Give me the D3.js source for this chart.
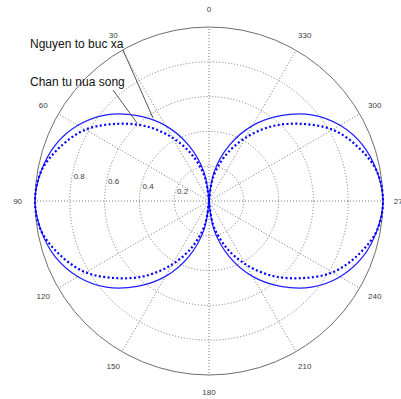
<!DOCTYPE html>
<html>
<head>
<meta charset="utf-8">
<script src="https://cdn.jsdelivr.net/npm/d3@7"></script>
<style>
  body { margin: 0; background: #fff; }
  text { font-family: "Liberation Sans", Arial, sans-serif; }
</style>
</head>
<body>
<script>
// angles in degrees, counter-clockwise from the top (0 up, 90 left)
const angles = [0, 10, 20, 30, 40, 50, 60, 70, 80, 90, 100, 110, 120, 130, 140, 150, 160, 170,
  180, 190, 200, 210, 220, 230, 240, 250, 260, 270, 280, 290, 300, 310, 320, 330, 340, 350, 360]

// "Nguyen to buc xa" (solid)
const nguyen = [0, 0.17, 0.34, 0.50, 0.64, 0.77, 0.87, 0.94, 0.98, 1.00, 0.98, 0.94, 0.87, 0.77, 0.64, 0.50, 0.34, 0.17,
  0, 0.17, 0.34, 0.50, 0.64, 0.77, 0.87, 0.94, 0.98, 1.00, 0.98, 0.94, 0.87, 0.77, 0.64, 0.50, 0.34, 0.17, 0]

// "Chan tu nua song" (dotted)
const chantu = [0, 0.14, 0.28, 0.42, 0.56, 0.69, 0.82, 0.91, 0.98, 1.00, 0.98, 0.91, 0.82, 0.69, 0.56, 0.42, 0.28, 0.14,
  0, 0.14, 0.28, 0.42, 0.56, 0.69, 0.82, 0.91, 0.98, 1.00, 0.98, 0.91, 0.82, 0.69, 0.56, 0.42, 0.28, 0.14, 0]

const spokeAngles = [0, 30, 60, 90, 120, 150, 180, 210, 240, 270, 300, 330]
const ringValues = [0.2, 0.4, 0.6, 0.8]
const ringLabels = ["0.2", "0.4", "0.6", "0.8"]

const dims = { w: 401, h: 399, cx: 209, cy: 201, R: 174 }

const svg = d3.select("body")
  .append("svg")
  .attr("width", dims.w)
  .attr("height", dims.h)

const rScale = d3.scaleLinear().domain([0, 1]).range([0, dims.R])
const rad = a => -a * Math.PI / 180   // d3 radial angles run clockwise

const px = (a, r) => dims.cx - rScale(r) * Math.sin(a * Math.PI / 180)
const py = (a, r) => dims.cy - rScale(r) * Math.cos(a * Math.PI / 180)

const g = svg.append("g")
  .attr("transform", `translate(${dims.cx}, ${dims.cy})`)

// grid rings
g.selectAll("circle.ring")
  .data(ringValues)
  .enter()
  .append("circle")
  .attr("class", "ring")
  .attr("r", d => rScale(d))
  .attr("fill", "none")
  .attr("stroke", "#6a6a6a")
  .attr("stroke-width", 0.9)
  .attr("stroke-dasharray", "1,2")

// spokes
g.selectAll("line.spoke")
  .data(spokeAngles)
  .enter()
  .append("line")
  .attr("x1", 0).attr("y1", 0)
  .attr("x2", d => px(d, 1) - dims.cx)
  .attr("y2", d => py(d, 1) - dims.cy)
  .attr("stroke", "#6a6a6a")
  .attr("stroke-width", 0.9)
  .attr("stroke-dasharray", "1,2")

// outer circle
g.append("circle")
  .attr("r", rScale(1))
  .attr("fill", "none")
  .attr("stroke", "#6e6e6e")
  .attr("stroke-width", 1)

// angle labels
svg.selectAll("text.ang")
  .data(spokeAngles)
  .enter()
  .append("text")
  .attr("class", "ang")
  .attr("x", d => px(d, 1.1))
  .attr("y", d => py(d, 1.1))
  .attr("text-anchor", "middle")
  .attr("dominant-baseline", "central")
  .attr("font-size", 8)
  .attr("fill", "#404040")
  .text(d => d)

// radial labels
svg.selectAll("text.rl")
  .data(ringValues)
  .enter()
  .append("text")
  .attr("class", "rl")
  .attr("x", d => px(82, d) + 2.5)
  .attr("y", d => py(82, d) - 5)
  .attr("dominant-baseline", "central")
  .attr("font-size", 8)
  .attr("fill", "#404040")
  .text((d, i) => ringLabels[i])

// curves, drawn one lobe at a time so the centre stays a clean crossing
const lineR = d3.lineRadial()
  .angle(d => rad(d.a))
  .radius(d => rScale(d.r))
  .curve(d3.curveCatmullRom)

const lobes = series => [
  angles.slice(0, 19).map((a, i) => ({ a, r: series[i] })),
  angles.slice(18).map((a, i) => ({ a, r: series[i + 18] }))
]

g.selectAll("path.nguyen")
  .data(lobes(nguyen))
  .enter()
  .append("path")
  .attr("d", lineR)
  .attr("fill", "none")
  .attr("stroke", "#2020ff")
  .attr("stroke-width", 1.3)

g.selectAll("path.chantu")
  .data(lobes(chantu))
  .enter()
  .append("path")
  .attr("d", lineR)
  .attr("fill", "none")
  .attr("stroke", "#0000ff")
  .attr("stroke-width", 2.2)
  .attr("stroke-dasharray", "2,2.4")

// annotations
const notes = [
  { label: "Nguyen to buc xa", tx: 30, ty: 48, lx: 123, ly: 50, a: 34, r: 0.575 },
  { label: "Chan tu nua song", tx: 30, ty: 86, lx: 113, ly: 90, a: 42.7, r: 0.61 }
]

svg.selectAll("line.note")
  .data(notes)
  .enter()
  .append("line")
  .attr("x1", d => d.lx).attr("y1", d => d.ly)
  .attr("x2", d => px(d.a, d.r)).attr("y2", d => py(d.a, d.r))
  .attr("stroke", "#555")
  .attr("stroke-width", 1)

svg.selectAll("text.note")
  .data(notes)
  .enter()
  .append("text")
  .attr("x", d => d.tx)
  .attr("y", d => d.ty)
  .attr("font-size", 12)
  .attr("fill", "#111")
  .text(d => d.label)
</script>
</body>
</html>
